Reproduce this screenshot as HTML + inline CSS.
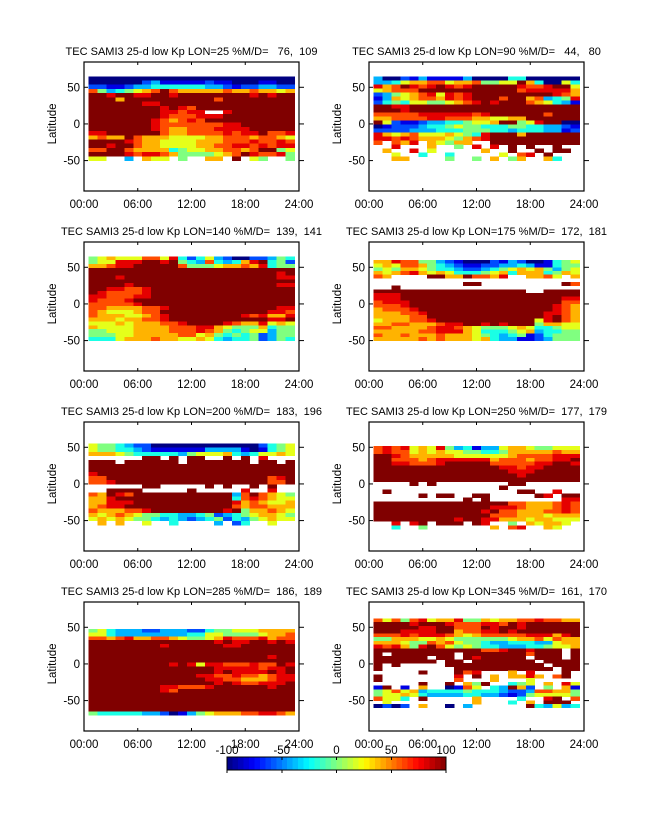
<!DOCTYPE html>
<html><head><meta charset="utf-8"><style>
html,body{margin:0;padding:0;background:#fff;}
svg{display:block;font-family:"Liberation Sans",sans-serif;}
.ttl{white-space:pre;}
</style></head><body>
<svg id="fig" width="647" height="822" viewBox="0 0 647 822"></svg>
<script>
// ---- data: one grid per panel; rows = latitude bins from north to south, cols = hourly bins 0.5..23.5 ----
// letter code: A=-100, B=-80, C=-60, D=-40, E=-20, F=0, G=20, H=40, I=60, J=80, K=100, '.'=no data
const panelTitles = [
"TEC SAMI3 25-d low Kp LON=25 %M/D=   76,  109",
"TEC SAMI3 25-d low Kp LON=90 %M/D=   44,   80",
"TEC SAMI3 25-d low Kp LON=140 %M/D=  139,  141",
"TEC SAMI3 25-d low Kp LON=175 %M/D=  172,  181",
"TEC SAMI3 25-d low Kp LON=200 %M/D=  183,  196",
"TEC SAMI3 25-d low Kp LON=250 %M/D=  177,  179",
"TEC SAMI3 25-d low Kp LON=285 %M/D=  186,  189",
"TEC SAMI3 25-d low Kp LON=345 %M/D=  161,  170"];
// latitude extent (north edge, south edge) covered by each panel's grid rows
const latNorth = [65, 65, 65, 60, 55, 52, 48, 62];
const latSouth = [-50, -50, -50, -50, -56, -62, -70, -60];
const grid1 = [
"AAAAAAAAAAAAAAAAAAAAAAA",
"AAAAAACDBBBBBCBBAAABBAA",
"CCBBCDDEEEEEEDDCBCCDDCC",
"IFDEFGHIKIHHHHHIHHIHHGH",
"KKJKKJJKKJKKKKKKKKJKJKK",
"KKKHKKKKKKKKKKIKKKKKKKK",
"KKKKKKJJKKKKKKKKKKKKKKK",
"KKKKKKKKJKJIKKKKKKKKKKK",
"KKKKKKKKJJIJJ..JKKKKKKK",
"KKKKKKKKJIIIJJJKKKKKKKK",
"KKKKKKKJIHIJIKKKKKKKKKK",
"KKKKKKKJIIIIIIIJJKKKKKK",
"KKKKKKKJIHHIIIJJJJKKKKK",
"JJKKKKKKIHHIIIIJIJJKIIJ",
"HIHHKIHHHGGGGHHIIIHIIHG",
"KKKKJIHHGGGGHHHIIIJIIJI",
"KKJKKIHHGGGGHHIIJJIJIJJ",
"IIKKIHHHHEFGGHHIIHIKKFG",
"KKKKJIJJIHFFFFGHIKJIIJF",
"GG..D.HGG.F..HH.K.GF..F"];
const grid2 = [
"DAACBDBBBBDAAAAEEAAAAAA",
"DDEGHHIIGHHIFFGGKHEAAGE",
"JHIKJIJKJIJKKKKKJIIJKKG",
"GHIIIKKKKKKKKKKKIJJJJJH",
"CDFGHIJGJIJKKKKKKKKKJIH",
"BDHGHIIHJIJKKKIKKHIDEFJ",
"CEFEGGFFGHIJKJKKKIHGEDB",
"KKJJKKKKKKKKKKKKKKKKKKK",
"KKKJKKKKKKKKKKKKKKKKKKK",
"IIIIIJJJJJJIJKKKKKKIKKK",
"HHIIIIJJIIIHHGGHHKKKKKK",
"KGCBBCDDEEFGGHKKFGJKKAA",
"ABCCCDEEFGFFEEEFFEEDDCB",
"CCCCDDDEEEFFFEEDEEEDDBC",
"JHGHIGGGHGFEJKKKHKKKKKK",
"JJIJIHHHGFHIJKKKKKKKKKK",
"I.IHJ.HGFHH..KKKKKKKKKK",
"..J...H..F.J.J.K.K..K..",
".H..J.G.....H..K..K.KK.",
"..G..E..E.....G.IJ.K...",
"..HH....F..F.H.FH..HE.."];
const grid3 = [
"FGHGGGIIGJECEGDCAACCDFE",
"FGGJJJKKJKFEDIEDEHJKEFC",
"HHIJJKKKKKIFFFGHHIHJEFF",
"KKKKKKKKKKKKKKKKKKKKKKK",
"KKKKKKKKKKKKKKKKKKKKKJK",
"KKKJKKKKKKKKKKKKKKKKKJJ",
"KKKKKKKKKKKKKKKKKKKKKKK",
"KKKKJKKKKKKKKKKKKKKKKJJ",
"KKJJIIJKKKKKKKKKKKKKKKK",
"KJIIIIJKKKKKKKKKKKKKKKK",
"JJIIIJJKKKKKKKKKKKKKKKK",
"JIIIJKKKKKKKKKKKKKKKKKK",
"IIIIIJKKKKKKKKKKKKKKKKK",
"IIHHHHIIJKKKKKKKKKKKKJJ",
"IHGGGHIIKKKKKKKKKKKKJJI",
"IHHHGGHIJKKKKKKKKJIJHHJ",
"HHHGHHIIJKKKKKKKKKKKJJK",
"GGGHGHHHIIJKKKKJIHHJGHG",
"HGGGGHHHHIIIJJHGFFFHEFF",
"FFGGGHHHHIIIJIHFEFGGDFF",
"FFFGGHHHHHIIGHFEFEFCDFF",
"EEEGHHHIHHGGHGEDEEFCDFE"];
const grid4 = [
"HHJIIFFDCBAAACBDCAABEFG",
"GHGIIHFEDCBBCCDDEDBBEFF",
"FGFHHGFEEDCCDEFGHGHFDFG",
"HGHIJHGHGEEEFGHEHHHEFHG",
"IH....KKHHKIIHJ..HHIG.H",
".......................",
"..........KK.........KI",
"..K....................",
"KKKKKKKKKKKKKKKKK..KKKK",
"JJJKKKKKKKKKKKKKKKKKKKK",
"JJJKKKKKKKKKKKKKKKKKKJJ",
"IJJJKKKKKKKKKKKKKKKKKII",
"IIIJKKKKKKKKKKKKKKKKJIH",
"HIIIJKKKKKKKKKKKKKKKJIH",
"HHHIIJKKKKKKKKKKKKKJJIH",
"HHHHIIKKKKKKKKKKKKKJKIH",
"GHHHIIJKKKKKKKKKKKGJKIH",
"HHIIHHHIJJKKJKJKKKFHHGG",
"IIHHHHIJJIHGFFFGHGEEFGG",
"HHHHHIIJJJHGEEEFGHDEEFF",
"IHHIHHHIHHHGFEDEFBCEFFF",
"HHHHHIHIHHHGHEDDBBCDFFF"];
const grid5 = [
"GFFEDCCAAAAAAAAAAAACEFG",
"GFFEEDCBBBBBBDDDDBABEFG",
"HHHGFEEEEEDFGGGHEDEGGHG",
"......KK.K.KK..K.K.J...",
"KKK.KKKKKK.KKKKKKK.KK.K",
"KKKKKKKKKKKKKKKKKKKKKKK",
"KKKKKKKKKKKKKKKKKKKKKKK",
"JKKKKKKKKKKKKKKKKKKKKKK",
"IIKKKKKKKKKKKKKKKKKKIJK",
"IIJKKKKKKKKKKKKKKKKKIIK",
"......KK.....K.K..K.K..",
"..KKKK.....K.....J..J..",
"IHKJIKKKKKKKKKKKDIKIHGF",
"HHJKKKKKKKKKKKKKEIJIHGG",
"HHJJJKKKKKKKKKKKJHIHGGH",
"HIJJKKKKKKKKKKKKIHIIHHH",
"IHHHIIJKKKKKKKKJKFHHIHG",
"HGHIHGFFEEDDEFCDEFGHHGF",
"GHGHGFFEDEDCDEFCEDFGHGG",
".H.H..G..E....D.CE..G.."];
const grid6 = [
"IJIJGHGJFDEBDDGHHGFFGGG",
"IJIIGHGHGGFFEEFHHHHHIHH",
"KKJIHHHHHGGGGGGHIIIIJJJ",
"KKIIIHIJJJJJJHIIIHIIJJK",
"KKJJIIIJKKKKKIIIIIJJKKJ",
"KKKKKKKKKKKKKKJJIJJKKKK",
"KKKKKKKKKKKKKKKJJJKKKKK",
"KKKKKKKKKKKKKKKKJKKKKKK",
"KKKKKKKKKKKKKKKKKKKKKKK",
"....K.K........KK......",
"..............K........",
".K..............KK..J..",
".....K.KK..KK.....KJ.KK",
"..........K.K........JJ",
"KKKKKKKKKKKKKKKIIHHHIJI",
"KKKKKKKKKKKKKJJJIHHHIJI",
"KKKKKKKKKKKKJKIIHHHIIJI",
"KKKKKKKKKKKKKIIIHHHGHHH",
"KKKKKKKKKJKKJJHHHGHHGGG",
"..J.JK.KKK.KJ..F.HGHHG.",
"..E..F.......H.IJ..HG.."];
const grid7 = [
"FGEDDDCCDDDCCEFFGGGHHHH",
"GGEDDDDDDDDEEGGFFFFGHHI",
"IIHIJHHIIHGFFGHJIIIJHII",
"KKKKKKKKKKKKKKJKJJKKJKJ",
"KKKKKKKKJKKKKKKJJKKKKKK",
"KKKKKKKKKKKKKKKKKKKKKKK",
"KKKKKKKKKKKKKKKKKKKKKKK",
"KKKKKKKKKKKKKKKKKKKKJKK",
"KKKKKKKKKKKKKKKKKKKKKKK",
"KKKKKKKKKJKJGJJIIIJIIKJ",
"KKKKKKKKKKKKKKJJJJJIJJK",
"KKKKKKKKKKKKKKJKJJJJKJK",
"KKKKKKKKKKKKJJIIJIIHIJJ",
"KKKKKKKKKKKKKJJIIHHHIJJ",
"KKKKKKKKKKKKKKJKJIIJJJK",
"KKKKKKKKJJIIIJKKKKKKJKK",
"KKKKKKKKJIKKKKKKKKKKKKK",
"KKKKKKKKKKKKKKKKKKKKKKK",
"KKKKKKKKKKKKKKKKKKKKKKK",
"KKKKKKKKKKKKKKKKKKKKKKK",
"KKKKKKKKKKKKKKKKKKKKKKK",
"KKKKKKKKKKKKKKKKKKKKKKK",
"FEEEEEDDCABDFGHHHIIJJIH"];
const grid8 = [
"IGIFIJGHHJFFHGHHIIJIIHH",
"KKKKJKKKJIIIJJIKJKKKKKK",
"KKKKKJJKKIIIKJKKJKKKKKK",
"KKKJJJJKKHIIJJKJKKKKKKK",
"IIIJIJJJIHGHIIIIIJJJHJK",
"FFHHHGGHGFFFFFFGHHIGIHH",
"HHHGFFIHIGFFEDDEEEDDGHH",
"JIJHFJKIGFGFEEDDDEEFGGH",
"KKKKKKKKKKKKIIJKKJKKK.K",
"K.KKKKKKK.KKKKKKKIKKK.K",
"KKKKKK.KK.KJKKKKK.KKK.K",
"KKKKKKK.KK.KKKKKKK.KKKK",
"K.K.....KKKKKKKKKKK.KKK",
"K........KKKKKKKKKKK.KK",
".....K...KIJ...H.J...K.",
"K........J.K.H.HHJH.IK.",
"K........I...H...G.....",
".....K..K.HFK..EFG.H.JG",
"BK.B.H..ABIG.EDKHC.F.HB",
"FGIGHDEEEEFEEEDCCDIIHHF",
"FGGHGEDDDDEEDDCBCFGGGGF",
"IGGE.K.....H....E..JK.I",
".G.........H...E.H.KKK.",
"ACAC.H..A.D......KEDGDE"];
const grids = [grid1,grid2,grid3,grid4,grid5,grid6,grid7,grid8];
const xTickHours = [0,6,12,18,24];
const xTickLabels = ["00:00","06:00","12:00","18:00","24:00"];
const yTickValues = [-50,0,50];
const cbTickValues = [-100,-50,0,50,100];
const levelCodes = "ABCDEFGHIJK";
const levelValues = [-100,-80,-60,-40,-20,0,20,40,60,80,100];

// ---- helpers ----
const NS="http://www.w3.org/2000/svg";
const svg=document.getElementById('fig');
function mk(tag,attrs,parent){const e=document.createElementNS(NS,tag);for(const k in attrs)e.setAttribute(k,attrs[k]);(parent||svg).appendChild(e);return e;}
function jet(v){
  const t=Math.max(0,Math.min(1,(v+100)/200));
  const f=x=>Math.max(0,Math.min(1,1.5-Math.abs(4*t-x)));
  return `rgb(${Math.round(f(3)*255)},${Math.round(f(2)*255)},${Math.round(f(1)*255)})`;
}
const LAT_MAX=84.5, LAT_MIN=-91.5;
const colLeft=[84,369], boxW=215, boxH=129;
function boxTop(r){return r<3?62+180*r:602;}

grids.forEach((grid,p)=>{
  const c=p%2, r=Math.floor(p/2);
  const X0=colLeft[c], Y0=boxTop(r);
  const xS=h=>X0+h/24*boxW;
  const yS=lat=>Y0+(LAT_MAX-lat)/(LAT_MAX-LAT_MIN)*boxH;
  const g=mk('g',{});
  
  
  const title=mk('text',{x:X0+boxW/2,y:Y0-7,'text-anchor':'middle','font-size':'11',class:'ttl'},g);
  title.textContent=panelTitles[p];
  
  
  const cells=mk('g',{'shape-rendering':'crispEdges'},g);
  
  
  const nR=grid.length, dLat=(latNorth[p]-latSouth[p])/nR;
  grid.forEach((row,k)=>{
    const latTop=latNorth[p]-dLat*k, latBot=latTop-dLat;
    for(let ci=0;ci<23;ci++){
      const ch=row[ci]||'.';
      const li=levelCodes.indexOf(ch);
      if(li<0)continue;
      const x1=xS(ci+0.5), x2=xS(ci+1.5);
      const rc=mk('rect',{x:x1,y:yS(latTop),width:x2-x1+0.3,height:yS(latBot)-yS(latTop)+0.3,fill:jet(levelValues[li])},cells);
      
      
    }
  });
  const frame=mk('rect',{x:X0,y:Y0,width:boxW,height:boxH,fill:'none',stroke:'#000','stroke-width':1.2},g);
  
  
  xTickHours.forEach((h,i)=>{
    const x=xS(h);
    mk('line',{x1:x,y1:Y0+boxH,x2:x,y2:Y0+boxH-3,stroke:'#000'},g);
    mk('line',{x1:x,y1:Y0,x2:x,y2:Y0+3,stroke:'#000'},g);
    const t=mk('text',{x:x,y:Y0+boxH+17,'text-anchor':'middle','font-size':'11.5'},g);
    t.textContent=xTickLabels[i];
    
    
  });
  yTickValues.forEach(v=>{
    const y=yS(v);
    mk('line',{x1:X0,y1:y,x2:X0+4,y2:y,stroke:'#000'},g);
    mk('line',{x1:X0+boxW,y1:y,x2:X0+boxW+5,y2:y,stroke:'#000'},g);
    const t=mk('text',{x:X0-4,y:y+4,'text-anchor':'end','font-size':'11.5'},g);
    t.textContent=String(v);
    
    
  });
  const yl=mk('text',{x:0,y:0,'text-anchor':'middle','font-size':'11.5',transform:`translate(${X0-28},${yS(0)}) rotate(-90)`},g);
  yl.textContent='Latitude';
  
  
});

// ---- colorbar ----
const cb=mk('g',{'shape-rendering':'crispEdges'});


const CB_X0=227, CB_X1=446, CB_Y0=757, CB_Y1=770, NSTEP=40;
const cbX=v=>CB_X0+(v+100)/200*(CB_X1-CB_X0);
for(let i=0;i<NSTEP;i++){
  const v0=-100+200*i/NSTEP, v1=-100+200*(i+1)/NSTEP;
  const rc=mk('rect',{x:cbX(v0),y:CB_Y0,width:cbX(v1)-cbX(v0)+0.4,height:CB_Y1-CB_Y0,fill:jet((v0+v1)/2)},cb);
  
  
}
mk('rect',{x:CB_X0,y:CB_Y0,width:CB_X1-CB_X0,height:CB_Y1-CB_Y0,fill:'none',stroke:'#000','stroke-width':1.2},cb);
cbTickValues.forEach(v=>{
  const x=cbX(v);
  mk('line',{x1:x,y1:CB_Y0,x2:x,y2:CB_Y0+3,stroke:'#000'},cb);
  mk('line',{x1:x,y1:CB_Y1,x2:x,y2:CB_Y1+3,stroke:'#000'},cb);
  const t=mk('text',{x:x,y:CB_Y0-3,'text-anchor':'middle','font-size':'11.5'},cb);
  t.textContent=String(v);
  
  
});
</script>
</body></html>
